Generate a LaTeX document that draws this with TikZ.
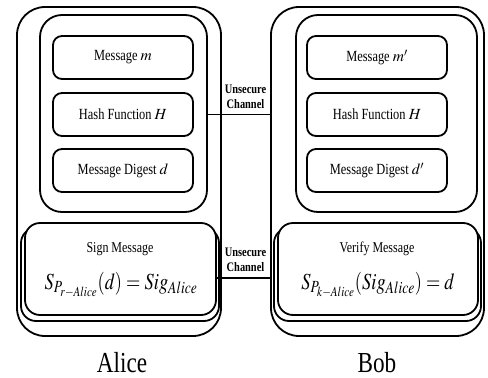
\documentclass[tikz,border=0pt]{standalone}
\usepackage{mathptmx}
\usepackage{fontspec}
\setmainfont{Liberation Serif}[FakeStretch=0.8]
\usepackage{graphicx}
\usetikzlibrary{calc}

\tikzset{
  box/.style={draw, line width=1.8pt, inner sep=0pt},
  outerbox/.style={box, rounded corners=28pt},
  innerbox/.style={box, rounded corners=22pt},
  msgbox/.style={box, rounded corners=9pt, minimum width=140pt, minimum height=43pt,
                 font=\fontsize{15.5}{18}\selectfont},
  signbox/.style={box, rounded corners=15pt, fill=white},
  chanlabel/.style={align=center, font=\fontsize{13}{14.5}\selectfont\bfseries, inner sep=0pt},
  title/.style={font=\fontsize{15}{18}\selectfont, inner sep=0pt},
  formula/.style={font=\fontsize{23}{27}\selectfont, inner sep=0pt},
  party/.style={font=\fontsize{29}{32}\selectfont, inner sep=0pt},
  link/.style={line width=1.8pt}
}

\begin{document}
\begin{tikzpicture}[x=1pt, y=-1pt]
  \useasboundingbox (0,0) rectangle (488,378);

  % Alice
  \node[outerbox, minimum width=204pt, minimum height=329pt] (aouter) at (119,171.5) {};
  \node[innerbox, minimum width=167pt, minimum height=197pt] (ainner) at (123.5,113.5) {};
  \node[msgbox] (amsg)  at (123,57.5)  {Message $m$};
  \node[msgbox] (ahash) at (123,114.5) {Hash Function $H$};
  \node[msgbox] (adig)  at (123,170.5) {Message Digest $d$};
  \node[box, rounded corners=15pt, minimum width=198pt, minimum height=93pt] (ashadow) at (120,274.5) {};
  \node[signbox, minimum width=191pt, minimum height=92pt] (asign) at (120.5,269) {};
  \node[title] (asigntitle) at (120,249) {Sign Message};
  \node[formula] (aformula) at (121,285) {\scalebox{0.8}[1]{$S_{P_{r{-}Alice}}(d)=Sig_{Alice}$}};
  \node[party] (aname) at (122,363) {Alice};

  % Bob
  \node[outerbox, minimum width=213pt, minimum height=329pt] (bouter) at (377.5,171.5) {};
  \node[innerbox, minimum width=181pt, minimum height=197pt] (binner) at (386.5,113.5) {};
  \node[msgbox] (bmsg)  at (377,57.5)  {Message $m'$};
  \node[msgbox] (bhash) at (377,114.5) {Hash Function $H$};
  \node[msgbox] (bdig)  at (377,170.5) {Message Digest $d'$};
  \node[box, rounded corners=15pt, minimum width=207pt, minimum height=93pt] (bshadow) at (377.5,274.5) {};
  \node[signbox, minimum width=200pt, minimum height=92pt] (bsign) at (378,269) {};
  \node[title] (bsigntitle) at (377,249) {Verify Message};
  \node[formula] (bformula) at (378,285) {\scalebox{0.8}[1]{$S_{P_{k{-}Alice}}(Sig_{Alice})=d$}};
  \node[party] (bname) at (377,363) {Bob};

  % unsecure channels
  \coordinate (alink) at ([yshift=-9pt]asign.east);
  \draw[link] (ainner.east |- ahash) -- (bouter.west |- ahash);
  \node[chanlabel] (chan1) at (245.5,97) {Unsecure\\Channel};
  \draw[link] (alink) -- (bouter.west |- alink);
  \node[chanlabel] (chan2) at (245.5,260) {Unsecure\\Channel};
\end{tikzpicture}
\end{document}
